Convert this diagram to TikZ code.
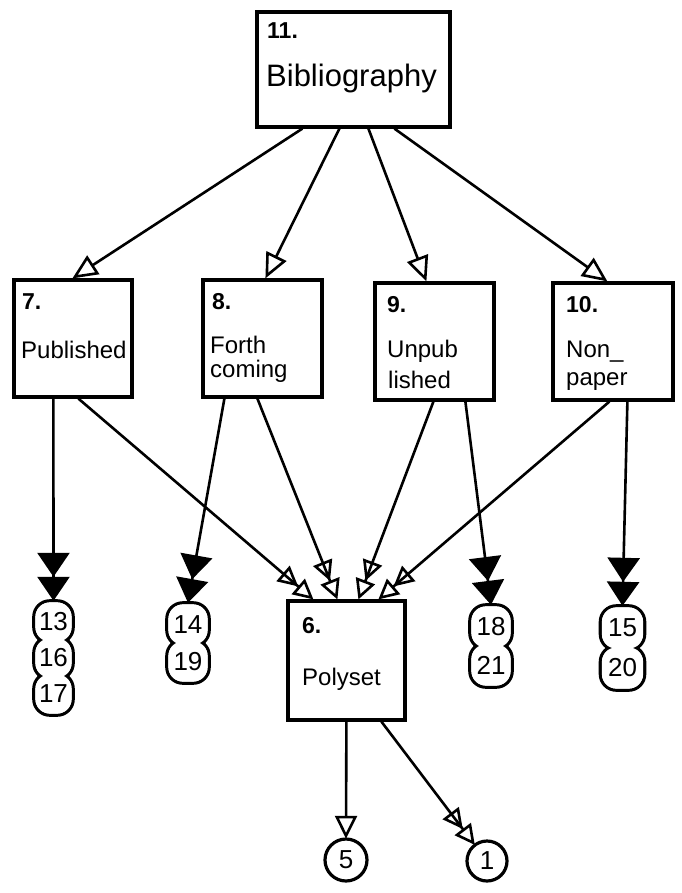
\documentclass[tikz,border=0pt]{standalone}
\usepackage{fontspec}
\setmainfont{Liberation Sans}
\usetikzlibrary{arrows.meta,backgrounds}

\begin{document}
\begin{tikzpicture}[x=1pt,y=-1pt,
  box/.style={draw,line width=3.2pt,rectangle,inner sep=0pt},
  numtext/.style={anchor=base west,inner sep=0pt,font=\bfseries\fontsize{23}{23}\selectfont},
  labtext/.style={anchor=base west,inner sep=0pt,font=\fontsize{24}{24}\selectfont},
  refnode/.style={rectangle,inner sep=0pt,font=\fontsize{26}{26}\selectfont},
  conn/.style={line width=2.6pt,line join=round},
  openhead/.style={conn,-{Triangle[open,length=25pt,width=22pt]}},
  opentwo/.style={conn,-{Triangle[open,length=20pt,width=20pt]Triangle[open,length=20pt,width=20pt]}},
  filledtwo/.style={conn,-{Triangle[length=24pt,width=32pt]Triangle[length=24pt,width=32pt]}},
  ring/.style={line width=3.2pt,rounded corners=16pt}
]
\useasboundingbox (0,0) rectangle (681,893);

% boxes
\node[box,minimum width=193pt,minimum height=115pt] (b11) at (353.5,69.5) {};
\node[box,minimum width=118pt,minimum height=117pt] (b7) at (73,338.5) {};
\node[box,minimum width=119pt,minimum height=117pt] (b8) at (262.5,338.5) {};
\node[box,minimum width=119pt,minimum height=117pt] (b9) at (434.5,341.5) {};
\node[box,minimum width=120pt,minimum height=117pt] (b10) at (613,341.5) {};
\node[box,minimum width=117pt,minimum height=119pt] (b6) at (346.5,660.5) {};

% box texts
\node[numtext] (t11) at (267,39) {11.};
\node[anchor=base west,inner sep=0pt,font=\fontsize{31}{31}\selectfont] (l11) at (266,87) {Bibliography};
\node[numtext] (t7) at (22,309) {7.};
\node[labtext] (l7) at (21,358) {Published};
\node[numtext] (t8) at (212,309) {8.};
\node[labtext] (l8a) at (210,353) {Forth};
\node[labtext] (l8b) at (210,377) {coming};
\node[numtext] (t9) at (387,312) {9.};
\node[labtext] (l9a) at (387,357) {Unpub};
\node[labtext] (l9b) at (388,388) {lished};
\node[numtext] (t10) at (566,312) {10.};
\node[labtext] (l10a) at (566,357) {Non\_};
\node[labtext] (l10b) at (566,385) {paper};
\node[numtext] (t6) at (302,633) {6.};
\node[labtext] (l6) at (302,685) {Polyset};

% numbered references (each node spans its ring)
\node[refnode,minimum width=39pt,minimum height=42pt] (n13) at (53.5,622) {13};
\node[refnode,minimum width=39pt,minimum height=42pt] (n16) at (53.5,658) {16};
\node[refnode,minimum width=39pt,minimum height=42pt] (n17) at (53.5,694) {17};
\node[refnode,minimum width=42pt,minimum height=43pt] (n14) at (188,624.5) {14};
\node[refnode,minimum width=42pt,minimum height=43pt] (n19) at (188,661.5) {19};
\node[refnode,minimum width=42pt,minimum height=44pt] (n18) at (491,627) {18};
\node[refnode,minimum width=42pt,minimum height=44pt] (n21) at (491,665) {21};
\node[refnode,minimum width=44pt,minimum height=44pt] (n15) at (622.5,628) {15};
\node[refnode,minimum width=44pt,minimum height=44pt] (n20) at (622.5,668) {20};
\node[circle,inner sep=0pt,minimum size=42pt,font=\fontsize{26}{26}\selectfont] (n5) at (346,860) {5};
\node[circle,inner sep=0pt,minimum size=40pt,font=\fontsize{26}{26}\selectfont] (n1) at (487,861) {1};

% rings: stacked ones merge into one pinched outline per column
\begin{scope}[on background layer]
  \foreach \n in {n13,n16,n17,n14,n19,n18,n21,n15,n20}
    \draw[ring] (\n.south west) rectangle (\n.north east);
  \foreach \n in {n13,n16,n17,n14,n19,n18,n21,n15,n20}
    \fill[white,rounded corners=14.4pt] ([shift={(1.6,-1.6)}]\n.south west) rectangle ([shift={(-1.6,1.6)}]\n.north east);
  \draw[line width=3.2pt] (n5.center) circle [radius=21];
  \draw[line width=3.2pt] (n1.center) circle [radius=20];
\end{scope}

% Bibliography to its four kinds
\draw[openhead] ([xshift=47pt]b11.south west) -- ([xshift=60pt]b7.north west);
\draw[openhead] ([xshift=84pt]b11.south west) -- ([xshift=64pt]b8.north west);
\draw[openhead] ([xshift=113pt]b11.south west) -- ([xshift=53pt]b9.north west);
\draw[openhead] ([xshift=139pt]b11.south west) -- ([xshift=56pt]b10.north west);

% kinds to Polyset
\draw[opentwo] ([xshift=66pt]b7.south west) -- ([xshift=27pt]b6.north west);
\draw[opentwo] ([xshift=56pt]b8.south west) -- ([xshift=51pt]b6.north west);
\draw[opentwo] ([xshift=60pt]b9.south west) -- ([xshift=72pt]b6.north west);
\draw[opentwo] ([xshift=58pt]b10.south west) -- ([xshift=92pt]b6.north west);

% kinds to their references
\draw[filledtwo] ([xshift=41pt]b7.south west) -- (n13.north);
\draw[filledtwo] ([xshift=23pt]b8.south west) -- (n14.north);
\draw[filledtwo] ([xshift=92pt]b9.south west) -- (n18.north);
\draw[filledtwo] ([xshift=76pt]b10.south west) -- (n15.north);

% Polyset to its references
\draw[conn,-{Triangle[open,length=23pt,width=22pt]}] ([xshift=60pt]b6.south west) -- (n5.north);
\draw[opentwo] ([xshift=95pt]b6.south west) -- (n1);
\end{tikzpicture}
\end{document}
